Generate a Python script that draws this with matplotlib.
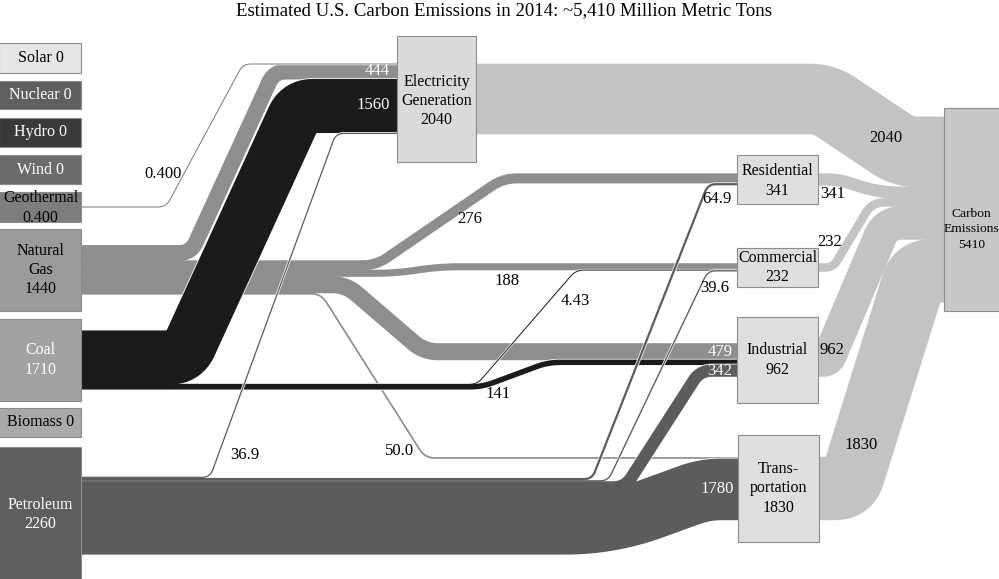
import numpy as np
import matplotlib
matplotlib.use("Agg")
import matplotlib.pyplot as plt
from matplotlib.patches import Rectangle

plt.rcParams['font.family'] = ['Liberation Serif', 'DejaVu Serif']

# ---------------- data ----------------
title = "Estimated U.S. Carbon Emissions in 2014: ~5,410 Million Metric Tons"
source_names = ["Solar", "Nuclear", "Hydro", "Wind", "Geothermal",
                "Natural Gas", "Coal", "Biomass", "Petroleum"]
source_values = [0, 0, 0, 0, 0.400, 1440, 1710, 0, 2260]
sector_names = ["Electricity Generation", "Residential", "Commercial",
                "Industrial", "Transportation"]
sector_values = [2040, 341, 232, 962, 1830]
total_name = "Carbon Emissions"
total_value = 5410

flow_from = ["Geothermal", "Natural Gas", "Natural Gas", "Natural Gas", "Natural Gas",
             "Natural Gas", "Coal", "Coal", "Coal", "Petroleum", "Petroleum",
             "Petroleum", "Petroleum", "Petroleum", "Electricity Generation",
             "Residential", "Commercial", "Industrial", "Transportation"]
flow_to = ["Electricity Generation", "Electricity Generation", "Residential", "Commercial",
           "Industrial", "Transportation", "Electricity Generation", "Commercial",
           "Industrial", "Electricity Generation", "Residential", "Commercial",
           "Industrial", "Transportation", "Carbon Emissions", "Carbon Emissions",
           "Carbon Emissions", "Carbon Emissions", "Carbon Emissions"]
flow_values = [0.400, 444, 276, 188, 479, 50.0, 1560, 4.43, 141, 36.9, 64.9, 39.6,
               342, 1780, 2040, 341, 232, 962, 1830]

# ---------------- layout / style ----------------
W, H, DPI = 999, 579, 100
SCALE = 0.0343  # pixels per million metric tons

boxes = {  # x0, y0, x1, y1 in pixels
    "Solar": (-1, 43, 81, 73), "Nuclear": (-1, 81, 81, 109), "Hydro": (-1, 118, 81, 147),
    "Wind": (-1, 155, 81, 184), "Geothermal": (-1, 192, 81, 222),
    "Natural Gas": (-1, 229, 81, 311), "Coal": (-1, 319, 81, 401),
    "Biomass": (-1, 408, 81, 437), "Petroleum": (-1, 447, 81, 584),
    "Electricity Generation": (397, 36, 476, 162),
    "Residential": (737, 155, 818, 204), "Commercial": (737, 248, 818, 287),
    "Industrial": (737, 317, 818, 403), "Transportation": (738, 435, 819, 542),
    "Carbon Emissions": (944, 108, 1001, 311),
}
box_face = {"Solar": "#e6e6e6", "Nuclear": "#5f5f5f", "Hydro": "#3a3a3a", "Wind": "#6b6b6b",
            "Geothermal": "#7d7d7d", "Natural Gas": "#9b9b9b", "Coal": "#a2a2a2",
            "Biomass": "#a9a9a9", "Petroleum": "#5e5e60",
            "Electricity Generation": "#dadada", "Residential": "#dedede",
            "Commercial": "#dedede", "Industrial": "#dedede", "Transportation": "#dedede",
            "Carbon Emissions": "#c7c7c7"}
white_text = {"Nuclear", "Hydro", "Wind", "Coal", "Petroleum"}
display = {"Natural Gas": "Natural\nGas", "Electricity Generation": "Electricity\nGeneration",
           "Transportation": "Trans-\nportation", "Carbon Emissions": "Carbon\nEmissions"}
multiline = {"Geothermal", "Natural Gas", "Coal", "Petroleum", "Electricity Generation",
             "Residential", "Commercial", "Industrial", "Transportation", "Carbon Emissions"}
label_offset = {"Carbon Emissions": 20, "Electricity Generation": 2, "Residential": 1.5,
                "Geothermal": 1, "Petroleum": -1}

group_color = {"Geothermal": "#7a7a7a", "Natural Gas": "#8e8e90", "Coal": "#1b1b1b",
               "Petroleum": "#5b5c5e", "carbon": "#c3c3c5"}
group_order = ["Natural Gas", "Coal", "Geothermal", "Petroleum", "carbon"]

# bend x-positions (start, end of diagonal) and corner rounding for each flow
bends = [(166, 243, 8), (191, 274, 12), (376, 503, 14), (395, 440, 20), (346, 424, 14),
         (321, 425, 10), (184, 299, 14), (477, 576, 8), (482, 548, 12), (210, 336, 8),
         (592, 708, 8), (608, 708, 8), (625, 700, 12), (610, 705, 45), (824, 903, 14),
         (838, 880, 20), (833, 872, 12), (828, 886, 16), (849, 917, 14)]
flow_label_pos = [(163, 174, 'k'), (377, 71, 'w'), (470, 219, 'k'), (507, 281, 'k'),
                  (720, 352, 'w'), (400, 451, 'k'), (373, 105, 'w'), (575, 301, 'k'),
                  (498, 394, 'k'), (245, 455, 'k'), (717, 199, 'k'), (715, 288, 'k'),
                  (720, 371, 'w'), (717, 489, 'w'), (886, 138, 'k'), (833, 194, 'k'),
                  (830, 242, 'k'), (832, 350, 'k'), (861, 445, 'k')]


def fmt(v):
    if v == 0:
        return "0"
    if v >= 100:
        return "%d" % round(v)
    if v >= 10:
        return "%.1f" % v
    if v >= 1:
        return "%.2f" % v
    return "%.3f" % v


def rounded(pts, r, n=16):
    pts = [np.array(p, float) for p in pts]
    out = [pts[0]]
    for i in range(1, len(pts) - 1):
        p0, p1, p2 = pts[i - 1], pts[i], pts[i + 1]
        d1, d2 = p1 - p0, p2 - p1
        L1, L2 = np.hypot(*d1), np.hypot(*d2)
        rr = min(r, L1 / 2, L2 / 2)
        a = p1 - d1 / L1 * rr
        b = p1 + d2 / L2 * rr
        t = np.linspace(0, 1, n)[:, None]
        out.extend(list((1 - t) ** 2 * a + 2 * (1 - t) * t * p1 + t ** 2 * b))
    out.append(pts[-1])
    return np.array(out)


fig = plt.figure(figsize=(W / DPI, H / DPI), dpi=DPI)
ax = fig.add_axes([0, 0, 1, 1])
ax.set_xlim(0, W)
ax.set_ylim(H, 0)
ax.axis('off')


def center(n):
    b = boxes[n]
    return (b[1] + b[3]) / 2


# stacking of flows at each node (centered on the box)
out_total, in_total = {}, {}
for f, t, v in zip(flow_from, flow_to, flow_values):
    out_total[f] = out_total.get(f, 0) + v
    in_total[t] = in_total.get(t, 0) + v
out_cur = {n: center(n) - out_total[n] * SCALE / 2 for n in out_total}
in_cur = {n: center(n) - in_total[n] * SCALE / 2 for n in in_total}

paths = []
for i, (f, t, v) in enumerate(zip(flow_from, flow_to, flow_values)):
    w = v * SCALE
    ys = out_cur[f] + w / 2
    out_cur[f] += w
    yd = in_cur[t] + w / 2
    in_cur[t] += w
    xa, xb, r = bends[i]
    x0 = boxes[f][2] - 1
    x1 = boxes[t][0] + 1
    pts = rounded([(x0, ys), (xa, ys), (xb, yd), (x1, yd)], r)
    grp = "carbon" if t == total_name else f
    paths.append((grp, pts, w))

px2pt = 72.0 / DPI
for g in group_order:
    items = [p for p in paths if p[0] == g]
    for _, pts, w in items:
        thin = w < 2.5
        wd = max(w, 1.0)
        ax.plot(pts[:, 0], pts[:, 1], color='white', lw=(wd + (1.4 if thin else 2.2)) * px2pt,
                solid_capstyle='butt', solid_joinstyle='round', zorder=2)
    for _, pts, w in items:
        thin = w < 2.5
        wd = max(w, 1.0)
        ax.plot(pts[:, 0], pts[:, 1], color=group_color[g],
                lw=(wd + (0 if thin else 0.6)) * px2pt,
                solid_capstyle='butt', solid_joinstyle='round', zorder=2)

# boxes and their labels
node_values = dict(zip(source_names, source_values))
node_values.update(dict(zip(sector_names, sector_values)))
node_values[total_name] = total_value
for n, (x0, y0, x1, y1) in boxes.items():
    rect = Rectangle((x0, y0), x1 - x0, y1 - y0, facecolor=box_face[n],
                     edgecolor='#8c8c8c', lw=0.8, zorder=5)
    ax.add_patch(rect)
    name = display.get(n, n)
    sep = "\n" if n in multiline else " "
    txt = name + sep + fmt(node_values[n])
    fs = 9.7 if n == total_name else 11.5
    ls = 1.43 if n == total_name else 1.27
    cy = (y0 + y1) / 2 + label_offset.get(n, 0)
    tx = ax.text((max(x0, 0) + min(x1, W)) / 2, cy, txt, ha='center', va='center',
                 fontsize=fs, color='white' if n in white_text else 'black',
                 linespacing=ls, zorder=6)
    tx.set_clip_path(rect)

# flow labels
for (x, y, c), v in zip(flow_label_pos, flow_values):
    ax.text(x, y, fmt(v), ha='center', va='center', fontsize=12,
            color='white' if c == 'w' else 'black', zorder=7)

ax.text(504, 11, title, ha='center', va='center', fontsize=13.5, color='black')

fig.savefig("out.png", dpi=DPI)
